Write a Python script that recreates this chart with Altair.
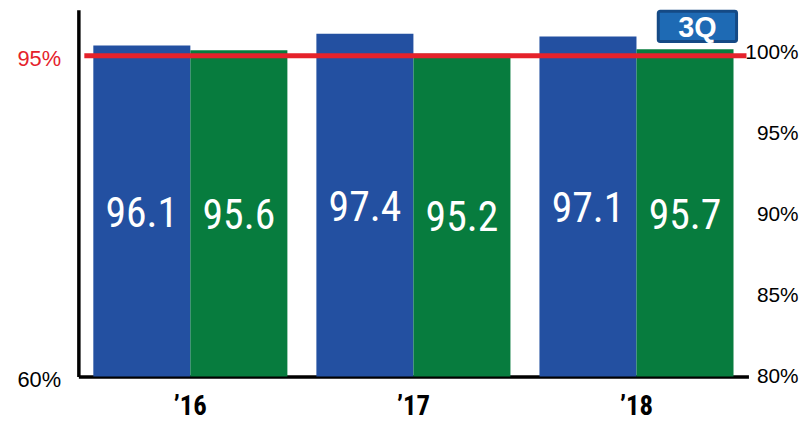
import altair as alt
import pandas as pd

years = ["’16", "’17", "’18"]
series_names = ["s1", "s2"]
s1_values = [96.1, 97.4, 97.1]
s2_values = [95.6, 95.2, 95.7]
left_ticks = [60, 95]
right_ticks = [80, 85, 90, 95, 100]
target = [95]
badge = ["3Q"]

BLUE = "#2350a1"
GREEN = "#077c3e"
RED = "#e5222b"
NARROW = "'Roboto Condensed', 'Liberation Sans Narrow', 'Arial Narrow', Roboto, sans-serif"
REG = "'Liberation Sans', Arial, sans-serif"

rows = []
for i, yr in enumerate(years):
    rows.append({"year": yr, "series": series_names[0], "value": s1_values[i]})
    rows.append({"year": yr, "series": series_names[1], "value": s2_values[i]})
df = pd.DataFrame(rows)
df_target = pd.DataFrame({"t": target})
df_badge = pd.DataFrame({"label": badge})
df_right = pd.DataFrame({"r": right_ticks})

x_enc = alt.X(
    "year:N", sort=years,
    scale=alt.Scale(paddingInner=0.13, paddingOuter=0.067),
    axis=alt.Axis(title=None, labelAngle=0, ticks=False, tickSize=0,
                  domainColor="black", domainWidth=3.5,
                  labelFont=NARROW, labelFontSize=27, labelFontWeight="bold",
                  labelColor="black", labelBaseline="alphabetic", labelPadding=38),
)
xoff = alt.XOffset("series:N", sort=series_names,
                   scale=alt.Scale(paddingInner=0, paddingOuter=0))
yscale = alt.Scale(domain=[60, 100], nice=False, zero=False)
yaxis = alt.Axis(
    title=None, values=left_ticks, labelExpr="datum.value + '%'",
    labelColor={"condition": {"test": f"datum.value === {target[0]}", "value": RED},
                "value": "black"},
    ticks=False, tickSize=0, grid=False, domainColor="black", domainWidth=3.5,
    labelFont=REG, labelFontSize=22, labelPadding=18, labelOffset=3,
)

bars = alt.Chart(df).mark_bar().encode(
    x=x_enc, xOffset=xoff,
    y=alt.Y("value:Q", scale=yscale, axis=yaxis),
    y2=alt.datum(60),
    color=alt.Color("series:N", scale=alt.Scale(domain=series_names, range=[BLUE, GREEN]), legend=None),
)

texts = alt.Chart(df).transform_calculate(
    mid="(datum.value + 60) / 2"
).mark_text(color="white", font=NARROW, fontSize=42, baseline="alphabetic", dy=16).encode(
    x=x_enc, xOffset=xoff,
    y=alt.Y("mid:Q", scale=yscale, axis=yaxis),
    text=alt.Text("value:Q", format=".1f"),
)

rule = alt.Chart(df_target).mark_rule(color=RED, strokeWidth=5).encode(
    y=alt.Y("t:Q", scale=yscale, axis=yaxis),
    x=alt.value(6), x2=alt.value(674),
)

badge_rect = alt.Chart(df_badge).mark_rect(
    fill="#1e6ab4", stroke="#154a85", strokeWidth=3, cornerRadius=2
).encode(x=alt.value(585), x2=alt.value(664), y=alt.value(1.5), y2=alt.value(32))

badge_text = alt.Chart(df_badge).mark_text(
    color="white", font=REG, fontWeight="bold", fontSize=29, baseline="alphabetic", align="center"
).encode(x=alt.value(624.5), y=alt.value(27), text="label:N")

left = alt.layer(bars, texts, rule, badge_rect, badge_text)

right = alt.Chart(df_right).mark_point(opacity=0).encode(
    y=alt.Y("r:Q", scale=alt.Scale(domain=[80, 102.63], nice=False, zero=False),
            axis=alt.Axis(orient="right", title=None, values=right_ticks,
                          labelExpr="datum.value + '%'", domain=False, ticks=False,
                          tickSize=0, grid=False, labelFont=REG, labelFontSize=21,
                          labelColor="black", labelAlign="right", labelPadding=50))
)

chart = alt.layer(left, right).resolve_scale(y="independent").properties(
    width=676, height=370,
    padding={"left": 71, "top": 0, "right": 52, "bottom": 45},
    autosize=alt.AutoSizeParams(type="none"),
).configure_view(stroke=None)

chart.save("out.html", embed_options={"renderer": "svg", "actions": False})
